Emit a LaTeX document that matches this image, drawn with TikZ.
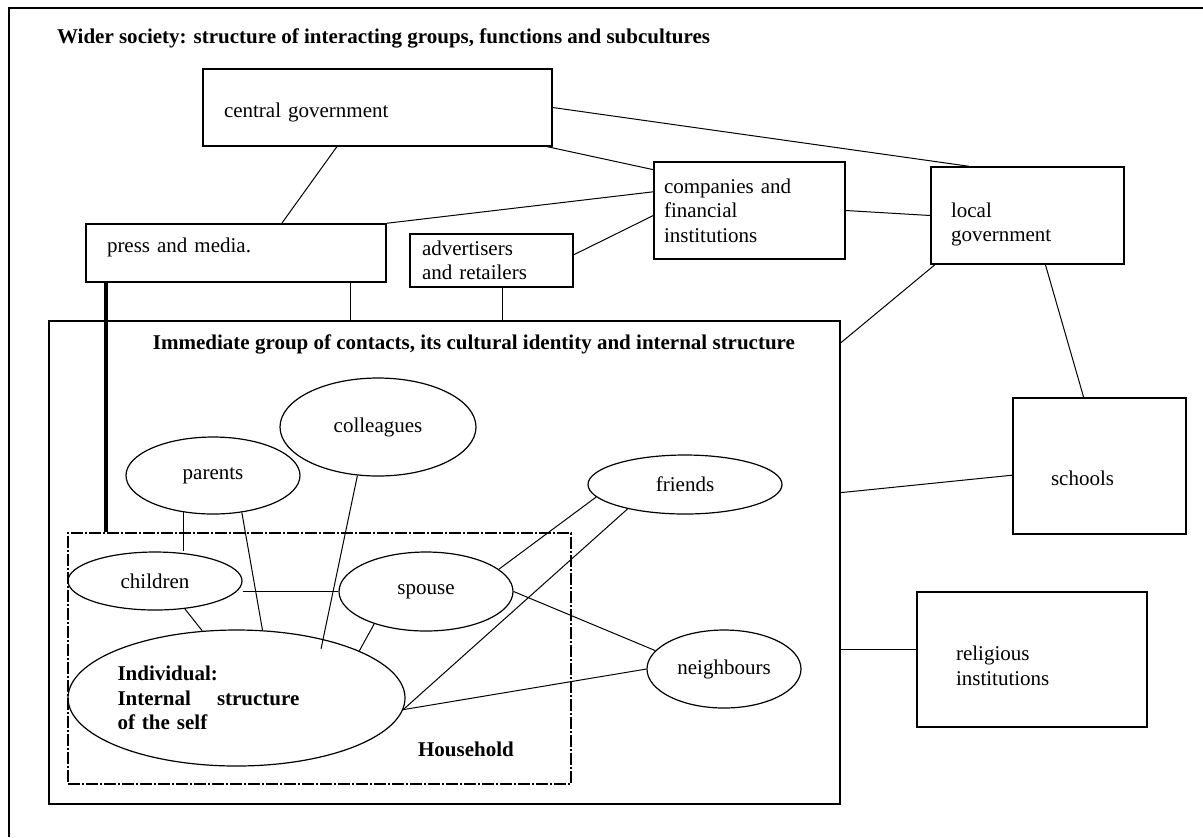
\documentclass[tikz,border=0pt]{standalone}
\usepackage{fontspec}
\setmainfont{Liberation Serif}
\usetikzlibrary{shapes.geometric}

\begin{document}
\begin{tikzpicture}[x=0.5pt,y=-0.5pt,
  every node/.style={font=\fontsize{10.5}{12.25}\selectfont},
  bold/.style={font=\fontsize{10.5}{12.25}\selectfont\bfseries},
  box/.style={draw,line width=0.75pt,inner sep=0pt,align=left},
  oval/.style={draw,ellipse,line width=0.6pt,inner sep=0pt},
  link/.style={line width=0.5pt}]
  \useasboundingbox (0,0) rectangle (1203,837);
  \draw[line width=0.75pt] (9,837) -- (9,8) -- (1203,8);
  \node[bold,anchor=west] (wider) at (50,38) {Wider society: structure of interacting groups, functions and subcultures};

  % wider society
  \node[box,minimum width=174.5pt,minimum height=38.5pt,text width=153.5pt,text height=12.5pt] (cg) at (377.5,107.5) {central government};
  \node[box,minimum width=150pt,minimum height=29pt,text width=129pt,text depth=8pt] (press) at (236,253) {press and media.};
  \node[box,minimum width=81.5pt,minimum height=26.5pt,text width=69.5pt] (adv) at (491.5,260.5) {advertisers\\ and retailers};
  \node[box,minimum width=95.5pt,minimum height=48.5pt,text width=85.5pt] (comp) at (749.5,210.5) {companies and\\ financial\\ institutions};
  \node[box,minimum width=96.5pt,minimum height=48.5pt,text width=76.5pt,text height=16.5pt] (lg) at (1027.5,215.5) {local\\ government};
  \node[box,minimum width=86.5pt,minimum height=68pt,text width=48.5pt,text height=19.5pt] (schools) at (1099.5,466) {schools};
  \node[box,minimum width=115pt,minimum height=67.5pt,text width=76pt,text height=13.5pt] (rel) at (1032,659.5) {religious\\ institutions};

  % immediate group
  \node[box,minimum width=395.5pt,minimum height=241.5pt] (group) at (444.5,562.5) {};
  \node[bold] (grouptitle) at (474,344) {Immediate group of contacts, its cultural identity and internal structure};
  \node[draw,line width=0.9pt,dash pattern=on 6pt off 1pt on 1pt off 1pt,inner sep=0pt,
    minimum width=251.5pt,minimum height=125.5pt] (hh) at (319.5,658.5) {};
  \node[bold] (hhlabel) at (466,749) {Household};

  \node[oval,minimum width=98pt,minimum height=49pt] (colleagues) at (378,427) {colleagues};
  \node[oval,minimum width=87pt,minimum height=38.5pt] (parents) at (213,475.5) {parents};
  \node[oval,minimum width=87pt,minimum height=29pt] (children) at (155,581) {children};
  \node[oval,minimum width=87pt,minimum height=39.5pt] (spouse) at (426,591.5) {spouse};
  \node[oval,minimum width=168.5pt,minimum height=68pt,text width=119pt,align=left,
    font=\fontsize{10.5}{12.25}\selectfont\bfseries] (indiv) at (236.5,698)
    {Individual:\\ Internal\hspace{13pt}structure\\ of the self};
  \node[oval,minimum width=97pt,minimum height=29.5pt] (friends) at (685,484.5) {friends};
  \node[oval,minimum width=77pt,minimum height=39pt] (neigh) at (724,669) {neighbours};

  \draw[link] (cg.east) -- (lg.140);
  \draw[link] (cg.-13) -- (comp.157);
  \draw[link] (cg.-136) -- (press.33);
  \draw[link] (press.north east) -- (comp.169);
  \draw[link] (adv.4) -- (comp.-177);
  \draw[link] (comp.east) -- (lg.west);
  \draw[link] (lg.-152) -- (group.29);
  \draw[link] (lg.-70) -- (schools.103);
  \draw[link] (schools.-174) -- (group.10);
  \draw[link] (rel.175) -- (rel.175 -| group.east);
  \draw[link] (press.south east) ++(-36,0) coordinate (pdrop) -- (pdrop |- group.north);
  \draw[link] (adv.south) ++(11,0) coordinate (adrop) -- (adrop |- group.north);
  \draw[line width=2pt] (press.south west) ++(21,0) coordinate (pthick) -- (pthick |- hh.north);

  \draw[link] (parents.-129) -- (parents.-129 |- children.north);
  \draw[link] (parents.-52) -- (indiv.69);
  \draw[link] (colleagues.-113) -- ([shift={(84.5,-49)}]indiv.center);
  \draw[link] (spouse.west) -- (spouse.west -| children.east);
  \draw[link] (children.-43) -- (indiv.117);
  \draw[link] (spouse.-148) -- (indiv.21);
  \draw[link] (friends.-172) -- (spouse.17);
  \draw[link] (friends.-157) -- (indiv.-4);
  \draw[link] (spouse.east) -- (neigh.165);
  \draw[link] (neigh.west) -- (indiv.-4);
\end{tikzpicture}
\end{document}
